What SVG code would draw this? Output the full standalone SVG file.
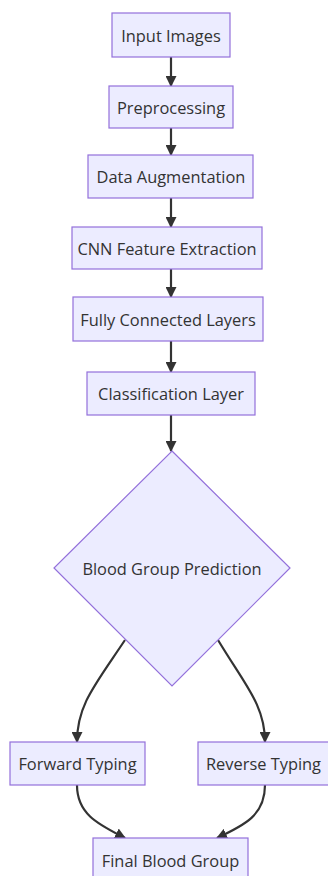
<svg xmlns="http://www.w3.org/2000/svg" width="328" height="876" viewBox="0 0 328 876">
<defs>
<style>
.node rect, .node polygon { fill: #ECECFF; stroke: #9370DB; stroke-width: 1.2; }
.node text { font-family: "Open Sans", "DejaVu Sans", sans-serif; font-size: 16.4px; font-weight: 500; fill: #333333; text-anchor: middle; dominant-baseline: central; }
.edge { fill: none; stroke: #333333; stroke-width: 2.2; marker-end: url(#arrow); }
</style>
<marker id="arrow" viewBox="0 0 10 10" refX="9" refY="5" markerWidth="11" markerHeight="11" markerUnits="userSpaceOnUse" orient="auto">
<path d="M0,0 L10,5 L0,10 z" fill="#333333"/>
</marker>
</defs>
<rect width="328" height="876" fill="#ffffff"/>
<g id="connectors">
<path class="edge" d="M171,57 L171,86"/>
<path class="edge" d="M171,128 L171,155"/>
<path class="edge" d="M171,198 L171,227"/>
<path class="edge" d="M171,269 L171,297"/>
<path class="edge" d="M171,341 L171,372"/>
<path class="edge" d="M171,415 L171,451"/>
<path class="edge" d="M125,640 C95,685 77,705 77,742"/>
<path class="edge" d="M218,640 C245,685 265,705 265,742"/>
<path class="edge" d="M77,785 C77,815 100,825 125,838"/>
<path class="edge" d="M265,785 C265,815 245,825 217,838"/>
</g>
<g id="n1" class="node"><rect x="112" y="13" width="118" height="44"/><text x="171" y="35">Input Images</text></g>
<g id="n2" class="node"><rect x="109" y="86" width="124" height="42"/><text x="171" y="107">Preprocessing</text></g>
<g id="n3" class="node"><rect x="88" y="155" width="165" height="43"/><text x="171" y="176.5">Data Augmentation</text></g>
<g id="n4" class="node"><rect x="72" y="227" width="190" height="42"/><text x="167" y="248">CNN Feature Extraction</text></g>
<g id="n5" class="node"><rect x="73" y="297" width="190" height="44"/><text x="168" y="319">Fully Connected Layers</text></g>
<g id="n6" class="node"><rect x="87" y="372" width="168" height="43"/><text x="171" y="393.5">Classification Layer</text></g>
<g id="n7" class="node"><polygon points="172,451 290,568 172,686 54,568"/><text x="172" y="568">Blood Group Prediction</text></g>
<g id="n8" class="node"><rect x="10" y="742" width="135" height="43"/><text x="77.5" y="763.5">Forward Typing</text></g>
<g id="n9" class="node"><rect x="198" y="742" width="131" height="43"/><text x="263.5" y="763.5">Reverse Typing</text></g>
<g id="n10" class="node"><rect x="93" y="838" width="155" height="44"/><text x="170.5" y="860">Final Blood Group</text></g>
</svg>
